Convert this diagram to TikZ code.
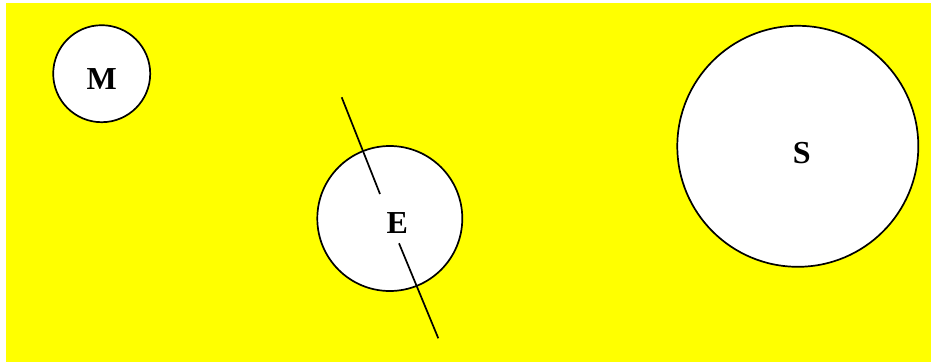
\documentclass[tikz,border=0pt]{standalone}
\usepackage{fontspec}
\setmainfont{Liberation Serif}
\definecolor{bgyellow}{RGB}{255,255,0}
\begin{document}
\begin{tikzpicture}[x=1pt,y=-1pt,
  body/.style={circle,draw=black,fill=white,line width=1.7pt,inner sep=0pt},
  lbl/.style={font=\fontsize{32}{35}\selectfont\bfseries,inner sep=0pt},
  axisline/.style={line width=1.7pt}]
\useasboundingbox (0,0) rectangle (931,362);
\fill[bgyellow] (6,3) rectangle (931,362);
\node[body,minimum size=97pt] (M) at (101.7,73.7) {};
\node[body,minimum size=145pt] (E) at (389.8,218.5) {};
\node[body,minimum size=241pt] (S) at (797.8,146.3) {};
\node[lbl] (Ml) at (101.7,79.3) {M};
\node[lbl] (El) at (397.3,223.3) {E};
\node[lbl] (Sl) at (801.7,153.3) {S};
\coordinate (a1) at (341.7,97.3);
\coordinate (a2) at (380,194);
\coordinate (b1) at (399,243.3);
\coordinate (b2) at (438.3,338.3);
\draw[axisline] (a1) -- (a2);
\draw[axisline] (b1) -- (b2);
\end{tikzpicture}
\end{document}
